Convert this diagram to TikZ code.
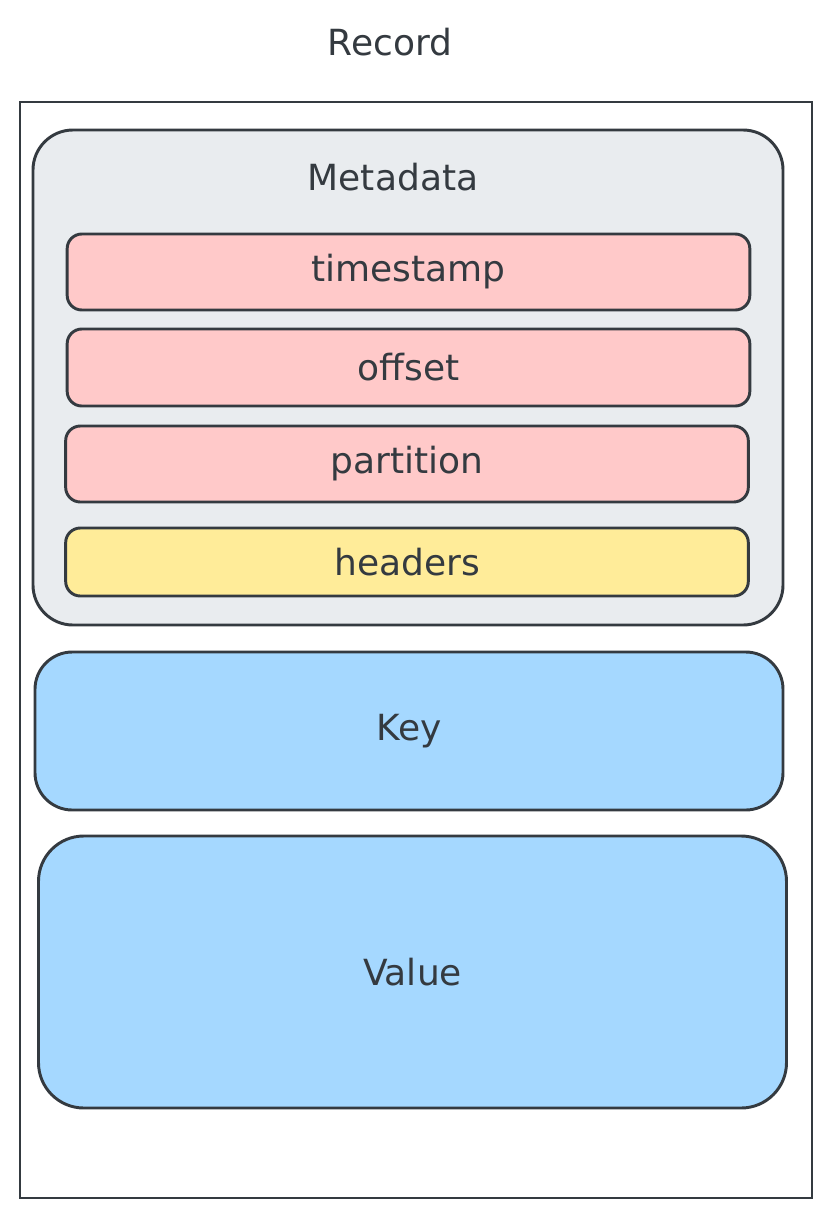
\documentclass[tikz,border=0pt]{standalone}
\usepackage{fontspec}
\setmainfont{DejaVu Sans}

\definecolor{ink}{HTML}{343A40}
\definecolor{metagray}{HTML}{E9ECEF}
\definecolor{fieldred}{HTML}{FFC9C9}
\definecolor{fieldyellow}{HTML}{FFEC99}
\definecolor{partblue}{HTML}{A5D8FF}

\tikzset{
  box/.style={draw=ink, line width=2.2pt, inner sep=0pt},
  field/.style={box, rounded corners=11pt, minimum width=512pt, text=ink, font=\fontsize{27}{31}\selectfont},
  part/.style={box, fill=partblue, rounded corners=28pt, minimum width=561pt, text=ink, font=\fontsize{27}{31}\selectfont},
  title/.style={text=ink, font=\fontsize{27}{31}\selectfont}
}

\begin{document}
\begin{tikzpicture}[x=0.75pt,y=-0.75pt]
   \useasboundingbox (0,0) rectangle (831,1218);

   \node[title] (record) at (390,42) {Record};
   \node[box, fill=white, minimum width=594pt, minimum height=822pt] (outer) at (416,650) {};

   \node[box, fill=metagray, rounded corners=30pt, minimum width=562.5pt, minimum height=371.25pt] (meta) at (408,377.5) {};
   \node[title] (metalabel) at (393,177) {Metadata};

   \node[field, fill=fieldred, minimum height=57pt] (timestamp) at (408.5,272) {timestamp};
   \node[field, fill=fieldred, minimum height=57.75pt] (offset) at (408.5,367.5) {offset};
   \node[field, fill=fieldred, minimum height=57pt] (partition) at (407,464) {partition};
   \node[field, fill=fieldyellow, minimum height=51pt] (headers) at (407,562) {headers};

   \node[part, minimum height=118.5pt] (key) at (409,731) {Key};
   \node[part, rounded corners=34pt, minimum height=204pt] (value) at (412.5,972) {Value};
\end{tikzpicture}
\end{document}
